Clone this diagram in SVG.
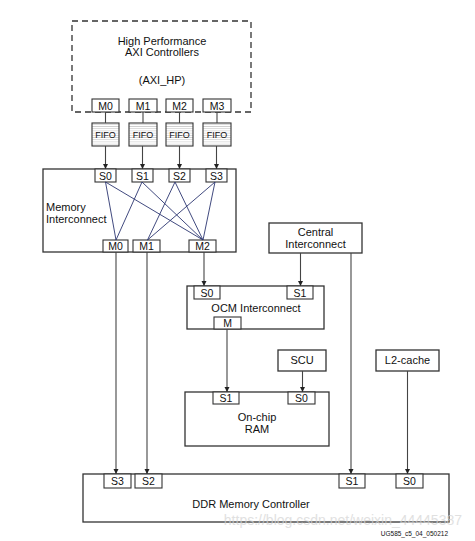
<svg xmlns="http://www.w3.org/2000/svg" width="475" height="541" viewBox="0 0 475 541">
<defs>
<style>
text{font-family:"Liberation Sans",Arial,sans-serif;fill:#111;}
.t{font-size:11px;text-anchor:middle;}
.p{font-size:10.5px;text-anchor:middle;}
.box{fill:#fff;stroke:#333;stroke-width:1.3;}
.port{fill:#fff;stroke:#333;stroke-width:1.1;}
.ln{stroke:#444;stroke-width:1.1;fill:none;}
.x{stroke:#2b3570;stroke-width:0.9;fill:none;}
</style>
<marker id="ah" markerWidth="6" markerHeight="6" refX="5" refY="3" orient="auto" markerUnits="userSpaceOnUse">
<path d="M0,0.5 L5,3 L0,5.5 Z" fill="#222"/>
</marker>
<pattern id="fifo" width="4" height="2.2" patternUnits="userSpaceOnUse">
<rect width="4" height="2.2" fill="#fff"/>
<line x1="0" y1="1.1" x2="4" y2="1.1" stroke="#bdbdbd" stroke-width="0.6"/>
</pattern>
</defs>
<rect width="475" height="541" fill="#fff"/>

<g id="axi_hp">
<rect x="72" y="21" width="179" height="91" fill="#fff" stroke="#333" stroke-width="1.3" stroke-dasharray="6,4"/>
<text class="t" x="162" y="45">High Performance</text>
<text class="t" x="162" y="56">AXI Controllers</text>
<text class="t" x="162" y="84">(AXI_HP)</text>
<rect class="port" x="92" y="99" width="27" height="13"/><text class="p" x="105.5" y="109.5">M0</text>
<rect class="port" x="129" y="99" width="28" height="13"/><text class="p" x="143" y="109.5">M1</text>
<rect class="port" x="166" y="99" width="27" height="13"/><text class="p" x="179.5" y="109.5">M2</text>
<rect class="port" x="203" y="99" width="28" height="13"/><text class="p" x="217" y="109.5">M3</text>
</g>

<g id="fifos">
<rect x="92" y="123" width="27" height="23" fill="url(#fifo)" stroke="#333" stroke-width="1.1"/><text x="105.5" y="138" font-size="9" text-anchor="middle">FIFO</text>
<rect x="129" y="123" width="28" height="23" fill="url(#fifo)" stroke="#333" stroke-width="1.1"/><text x="143" y="138" font-size="9" text-anchor="middle">FIFO</text>
<rect x="166" y="123" width="27" height="23" fill="url(#fifo)" stroke="#333" stroke-width="1.1"/><text x="179.5" y="138" font-size="9" text-anchor="middle">FIFO</text>
<rect x="203" y="123" width="28" height="23" fill="url(#fifo)" stroke="#333" stroke-width="1.1"/><text x="217" y="138" font-size="9" text-anchor="middle">FIFO</text>
</g>

<g id="memory_interconnect">
<rect class="box" x="43" y="169" width="193" height="83"/>
<text x="46" y="211" font-size="11">Memory</text>
<text x="46" y="223" font-size="11">Interconnect</text>
<rect class="port" x="95" y="169" width="21" height="13"/><text class="p" x="105.5" y="179.5">S0</text>
<rect class="port" x="132" y="169" width="21" height="13"/><text class="p" x="142.5" y="179.5">S1</text>
<rect class="port" x="169" y="169" width="21" height="13"/><text class="p" x="179.5" y="179.5">S2</text>
<rect class="port" x="206" y="169" width="21" height="13"/><text class="p" x="216.5" y="179.5">S3</text>
<rect class="port" x="103" y="240" width="25" height="12"/><text class="p" x="115.5" y="250" fill="#3b2b5e">M0</text>
<rect class="port" x="133" y="240" width="27" height="12"/><text class="p" x="146.5" y="250" fill="#2b3570">M1</text>
<rect class="port" x="189" y="240" width="27" height="12"/><text class="p" x="202.5" y="250" fill="#2b3570">M2</text>
</g>

<g id="central_interconnect">
<rect class="box" x="269" y="223" width="93" height="30"/>
<text class="t" x="315.5" y="236">Central</text>
<text class="t" x="315.5" y="248">Interconnect</text>
</g>

<g id="ocm_interconnect">
<rect class="box" x="187" y="286" width="137" height="43"/>
<rect class="port" x="194" y="286" width="26" height="13"/><text class="p" x="207" y="296.5">S0</text>
<rect class="port" x="287" y="286" width="26" height="13"/><text class="p" x="300" y="296.5">S1</text>
<text class="t" x="256" y="312">OCM Interconnect</text>
<rect class="port" x="214" y="317" width="27" height="12"/><text class="p" x="227.5" y="327">M</text>
</g>

<g id="scu">
<rect class="box" x="278" y="350" width="48" height="21"/>
<text class="t" x="302" y="364">SCU</text>
</g>

<g id="l2cache">
<rect class="box" x="376" y="350" width="63" height="21"/>
<text class="t" x="407.5" y="364">L2-cache</text>
</g>

<g id="onchip_ram">
<rect class="box" x="185" y="392" width="144" height="54"/>
<rect class="port" x="213" y="392" width="26" height="12"/><text class="p" x="226" y="402">S1</text>
<rect class="port" x="288" y="392" width="27" height="12"/><text class="p" x="301.5" y="402">S0</text>
<text class="t" x="257" y="421">On-chip</text>
<text class="t" x="257" y="433">RAM</text>
</g>

<g id="ddr_controller">
<rect class="box" x="83" y="474" width="366" height="48"/>
<rect class="port" x="104" y="474" width="27" height="14"/><text class="p" x="117.5" y="485">S3</text>
<rect class="port" x="135" y="474" width="27" height="14"/><text class="p" x="148.5" y="485">S2</text>
<rect class="port" x="339" y="474" width="26" height="14"/><text class="p" x="352" y="485">S1</text>
<rect class="port" x="396" y="474" width="27" height="14"/><text class="p" x="409.5" y="485">S0</text>
<text class="t" x="251" y="508">DDR Memory Controller</text>
</g>

<g id="connectors">
<line class="ln" x1="105.5" y1="112" x2="105.5" y2="123"/>
<line class="ln" x1="143" y1="112" x2="143" y2="123"/>
<line class="ln" x1="179.5" y1="112" x2="179.5" y2="123"/>
<line class="ln" x1="217" y1="112" x2="217" y2="123"/>
<line class="ln" x1="105.5" y1="146" x2="105.5" y2="169" marker-end="url(#ah)"/>
<line class="ln" x1="142.5" y1="146" x2="142.5" y2="169" marker-end="url(#ah)"/>
<line class="ln" x1="179.5" y1="146" x2="179.5" y2="169" marker-end="url(#ah)"/>
<line class="ln" x1="216.5" y1="146" x2="216.5" y2="169" marker-end="url(#ah)"/>
<line class="x" x1="105.5" y1="182" x2="116" y2="240"/>
<line class="x" x1="105.5" y1="182" x2="203" y2="240"/>
<line class="x" x1="142" y1="182" x2="116" y2="240"/>
<line class="x" x1="142" y1="182" x2="203" y2="240"/>
<line class="x" x1="175" y1="182" x2="147.5" y2="240"/>
<line class="x" x1="175" y1="182" x2="203" y2="240"/>
<line class="x" x1="215" y1="182" x2="147.5" y2="240"/>
<line class="x" x1="215" y1="182" x2="203" y2="240"/>
<line class="ln" x1="116" y1="252" x2="116" y2="474" marker-end="url(#ah)"/>
<line class="ln" x1="147" y1="252" x2="147" y2="474" marker-end="url(#ah)"/>
<line class="ln" x1="204" y1="252" x2="204" y2="286" marker-end="url(#ah)"/>
<line class="ln" x1="300.5" y1="253" x2="300.5" y2="286" marker-end="url(#ah)"/>
<line class="ln" x1="351" y1="253" x2="351" y2="474" marker-end="url(#ah)"/>
<line class="ln" x1="227" y1="329" x2="227" y2="392" marker-end="url(#ah)"/>
<line class="ln" x1="302.5" y1="371" x2="302.5" y2="392" marker-end="url(#ah)"/>
<line class="ln" x1="407.5" y1="371" x2="407.5" y2="474" marker-end="url(#ah)"/>
</g>

<text x="462" y="525" font-size="14" text-anchor="end" style="fill:#d4d4d4" opacity="0.7">https://blog.csdn.net/weixin_44445387</text>
<text x="448" y="536" font-size="6.5" text-anchor="end">UG585_c5_04_050212</text>
</svg>
